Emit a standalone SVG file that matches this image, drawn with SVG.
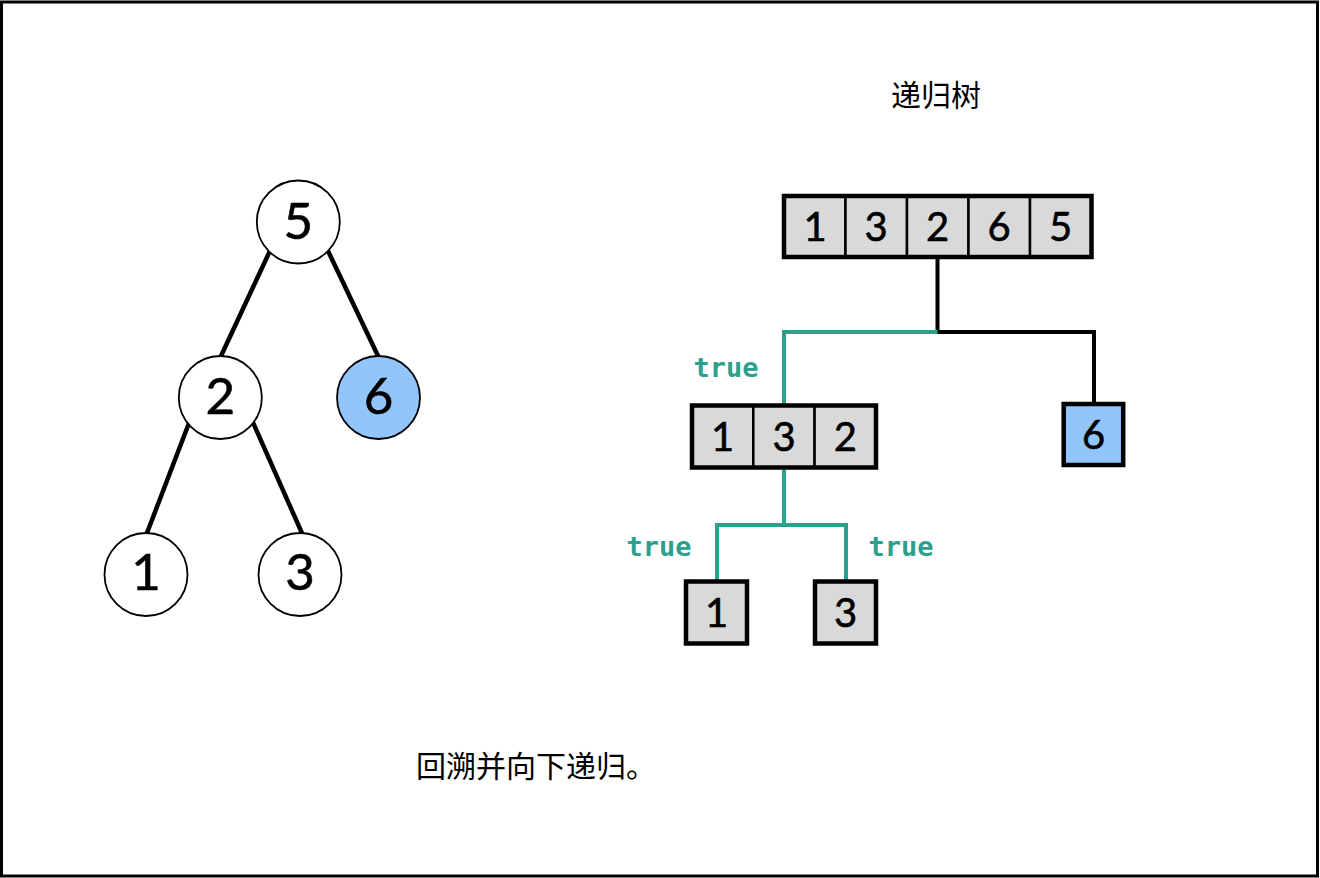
<svg xmlns="http://www.w3.org/2000/svg" width="1320" height="878" viewBox="0 0 1320 878">
<style>
.frame{fill:#fff;stroke:#000;stroke-width:3}
.circ{fill:#fff;stroke:#000;stroke-width:1.8}
.blue{fill:#93c5fd}
.edge{stroke:#000;stroke-width:4.5;fill:none;stroke-linecap:butt}
.cell{fill:#d9d9d9;stroke:#000;stroke-width:2.5}
.outer{fill:none;stroke:#000;stroke-width:4.5}
.box{fill:#d9d9d9;stroke:#000;stroke-width:4.5}
.dig{font-family:Lato,"DejaVu Sans",sans-serif;fill:#000;text-anchor:middle;stroke:#000;stroke-width:0.6}
.cd{font-size:51px}
.ad{font-size:40px}
.wire{fill:none;stroke:#000;stroke-width:4}
.tw{fill:none;stroke:#2ca08d;stroke-width:4}
.tl{font-family:"DejaVu Sans Mono","Liberation Mono",monospace;font-weight:bold;font-size:27px;fill:#2ca08d;text-anchor:middle}
.cn{font-family:"Noto Sans CJK SC",sans-serif;font-size:30px;fill:#000}
</style>
<rect class="frame" x="1.5" y="2" width="1316" height="874"/>
<text class="cn" x="936" y="106" text-anchor="middle">递归树</text>
<text class="cn" x="416" y="777">回溯并向下递归。</text>
<g id="tree-edges">
<line class="edge" x1="272.7" y1="245" x2="218.2" y2="362"/>
<line class="edge" x1="325.2" y1="245" x2="380.9" y2="362"/>
<line class="edge" x1="194" y1="410" x2="144.3" y2="540"/>
<line class="edge" x1="247.5" y1="410" x2="305" y2="540"/>
</g>
<g id="t5"><circle class="circ" cx="298.3" cy="222" r="41.5"/><text class="dig cd" x="298.3" y="238.5">5</text></g>
<g id="t2"><circle class="circ" cx="220.3" cy="397.5" r="41.5"/><text class="dig cd" x="220.3" y="413.5">2</text></g>
<g id="t6"><circle class="circ blue" cx="378.5" cy="397.5" r="41.5"/><text class="dig cd" x="378.5" y="413.5">6</text></g>
<g id="t1"><circle class="circ" cx="146" cy="574.5" r="41.5"/><text class="dig cd" x="146" y="590">1</text></g>
<g id="t3"><circle class="circ" cx="300" cy="574.5" r="41.5"/><text class="dig cd" x="300" y="590">3</text></g>
<g id="connectors">
<path class="wire" d="M937.5,259 V332 H1094 V404"/>
<path class="tw" d="M937.5,332 H784 V405"/>
<path class="tw" d="M784,470 V525 H717 V581"/>
<path class="tw" d="M784,525 H846 V581"/>
</g>
<g id="arr-root">
<rect class="cell" x="784" y="196" width="61.5" height="61"/>
<rect class="cell" x="845.5" y="196" width="61.5" height="61"/>
<rect class="cell" x="907" y="196" width="61.5" height="61"/>
<rect class="cell" x="968.5" y="196" width="61.5" height="61"/>
<rect class="cell" x="1030" y="196" width="61.5" height="61"/>
<rect class="outer" x="784" y="196" width="307.5" height="61"/>
<text class="dig ad" x="815" y="240.5">1</text>
<text class="dig ad" x="876" y="240.5">3</text>
<text class="dig ad" x="937.5" y="240.5">2</text>
<text class="dig ad" x="999" y="240.5">6</text>
<text class="dig ad" x="1060.5" y="240.5">5</text>
</g>
<g id="arr-132">
<rect class="cell" x="692" y="405.5" width="61.3" height="62"/>
<rect class="cell" x="753.3" y="405.5" width="61.3" height="62"/>
<rect class="cell" x="814.6" y="405.5" width="61.4" height="62"/>
<rect class="outer" x="692" y="405.5" width="184" height="62"/>
<text class="dig ad" x="722.6" y="451">1</text>
<text class="dig ad" x="784" y="451">3</text>
<text class="dig ad" x="845.3" y="451">2</text>
</g>
<g id="arr-6">
<rect class="box" x="1063.7" y="404" width="59.5" height="61" style="fill:#93c5fd"/>
<text class="dig ad" x="1093.5" y="449">6</text>
</g>
<g id="arr-1">
<rect class="box" x="686" y="581.5" width="61" height="62"/>
<text class="dig ad" x="716.5" y="627">1</text>
</g>
<g id="arr-3">
<rect class="box" x="815" y="581.5" width="61" height="62"/>
<text class="dig ad" x="845.5" y="627">3</text>
</g>
<g id="labels">
<text class="tl" x="726" y="377">true</text>
<text class="tl" x="659" y="556">true</text>
<text class="tl" x="901" y="556">true</text>
</g>
</svg>
